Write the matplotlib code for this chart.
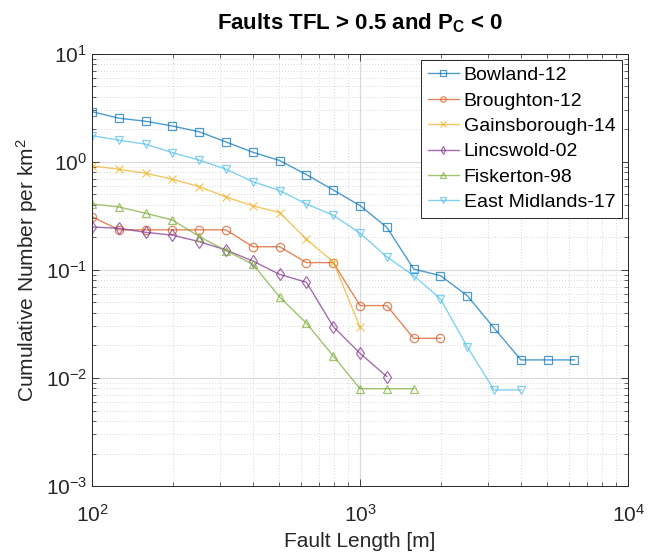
import numpy as np
import matplotlib
matplotlib.use("Agg")
import matplotlib.pyplot as plt
from matplotlib.ticker import LogLocator, NullFormatter

plt.rcParams["font.family"] = ["Liberation Sans", "DejaVu Sans"]
plt.rcParams["mathtext.fontset"] = "custom"
plt.rcParams["mathtext.rm"] = "Liberation Sans"
plt.rcParams["mathtext.it"] = "Liberation Sans"
plt.rcParams["mathtext.bf"] = "Liberation Sans:bold"

# fault length bins [m], 10 per decade
lengths = 10 ** (2 + np.arange(19) / 10)

bowland = [2.92, 2.54, 2.38, 2.15, 1.90, 1.53, 1.23, 1.03, 0.763, 0.55, 0.394,
           0.248, 0.102, 0.0886, 0.0578, 0.029, 0.0147, 0.0147, 0.0147]
broughton = [0.312, 0.235, 0.235, 0.235, 0.235, 0.235, 0.164, 0.164, 0.117,
             0.117, 0.0468, 0.0468, 0.0233, 0.0233]
gainsborough = [0.918, 0.856, 0.786, 0.691, 0.591, 0.474, 0.392, 0.34, 0.192,
                0.119, 0.0295]
lincswold = [0.25, 0.243, 0.223, 0.21, 0.183, 0.153, 0.121, 0.091, 0.0769,
             0.0299, 0.0169, 0.0103]
fiskerton = [0.408, 0.383, 0.335, 0.29, 0.204, 0.151, 0.113, 0.0562, 0.0321,
             0.016, 0.00796, 0.00796, 0.00796]
east_midlands = [1.75, 1.59, 1.46, 1.22, 1.04, 0.856, 0.657, 0.543, 0.408,
                 0.321, 0.219, 0.132, 0.0886, 0.054, 0.0194, 0.00774, 0.00774]

series = [
    ("Bowland-12", bowland, "#0072BD", "s"),
    ("Broughton-12", broughton, "#D95319", "o"),
    ("Gainsborough-14", gainsborough, "#EDB120", "x"),
    ("Lincswold-02", lincswold, "#7E2F8E", "d"),
    ("Fiskerton-98", fiskerton, "#77AC30", "^"),
    ("East Midlands-17", east_midlands, "#4DBEEE", "v"),
]

fig = plt.figure(figsize=(6.49, 5.54), dpi=100)
ax = fig.add_axes([0.1418, 0.1227, 0.826, 0.78])

for name, vals, c, m in series:
    ax.loglog(lengths[:len(vals)], vals, color=c, marker=m, ms=6,
              mfc="none", mew=0.9, lw=1.0, alpha=0.7, label=name)

ax.set_xlim(1e2, 1e4)
ax.set_ylim(1e-3, 1e1)
ax.xaxis.set_major_locator(LogLocator(base=10, numticks=10))
ax.yaxis.set_major_locator(LogLocator(base=10, numticks=10))
ax.xaxis.set_minor_locator(LogLocator(base=10, subs=np.arange(2, 10), numticks=20))
ax.yaxis.set_minor_locator(LogLocator(base=10, subs=np.arange(2, 10), numticks=20))
ax.xaxis.set_minor_formatter(NullFormatter())
ax.yaxis.set_minor_formatter(NullFormatter())

ax.grid(True, which="major", color="#d9d9d9", lw=0.8)
ax.grid(True, which="minor", color="#c8c8c8", lw=0.6, ls=(0, (1, 2.5)))
ax.set_axisbelow(True)
ax.tick_params(which="both", direction="in", top=True, right=True,
               colors="#262626", labelsize=15)
ax.tick_params(axis="x", which="major", pad=13)
ax.tick_params(which="major", length=5, width=0.6)
ax.tick_params(which="minor", length=3, width=0.5)
for s in ax.spines.values():
    s.set_color("#262626")
    s.set_linewidth(0.7)

ax.set_xlabel("Fault Length [m]", fontsize=15, color="#262626", labelpad=4)
ax.set_ylabel("Cumulative Number per km$^2$", fontsize=15, color="#262626")
ax.set_title("Faults TFL > 0.5 and P$_\\mathbf{C}$ < 0", fontsize=16,
             fontweight="bold", pad=18)

leg = ax.legend(loc="upper right", fontsize=14, fancybox=False,
                edgecolor="#262626", framealpha=1, handlelength=1.6,
                handletextpad=0.25, borderpad=0.35, labelspacing=0.4,
                borderaxespad=0.3, markerscale=0.65)
leg.get_frame().set_linewidth(0.7)

fig.savefig("out.png", dpi=100)
